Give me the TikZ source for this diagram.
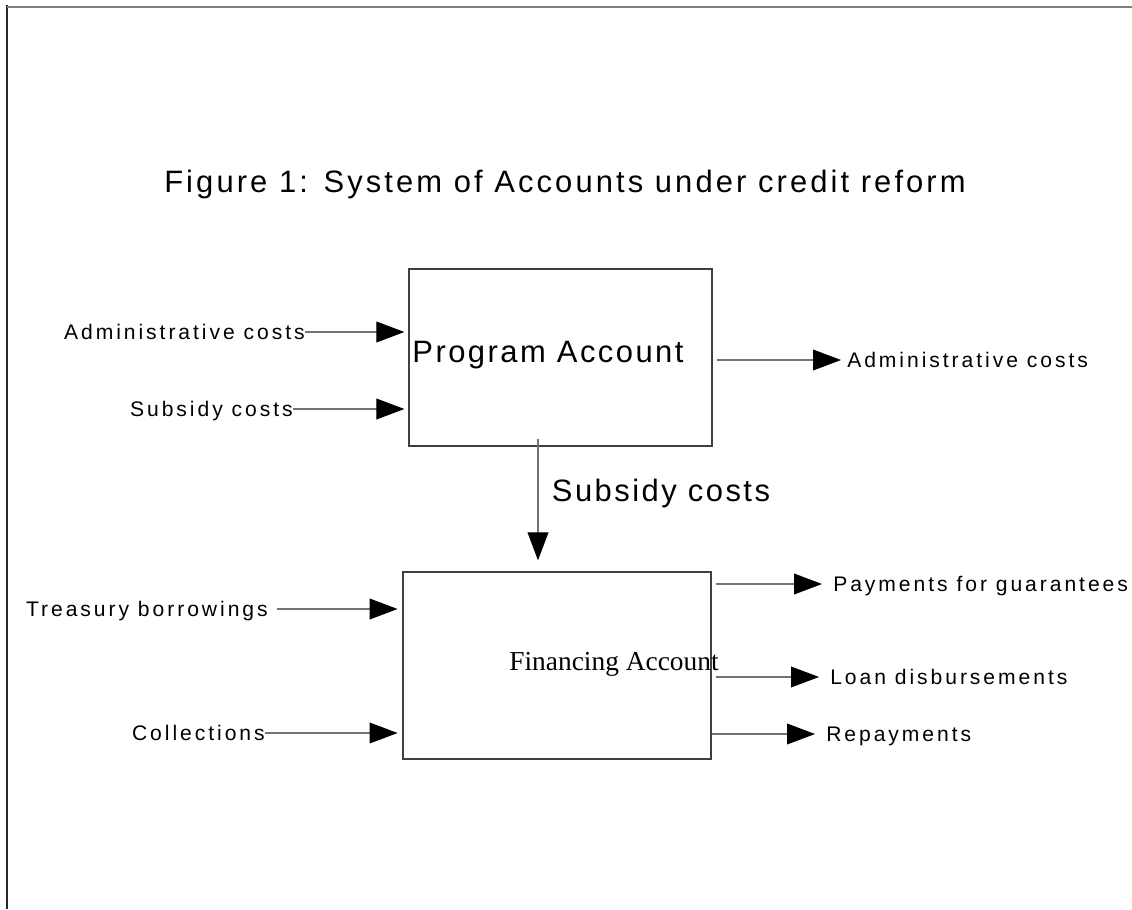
\documentclass[tikz,border=0pt]{standalone}
\usepackage{fontspec}
\setmainfont{Liberation Sans}
\newfontfamily\smallsans[LetterSpace=14]{Liberation Sans}
\newfontfamily\bigsans[LetterSpace=8]{Liberation Sans}
\newfontfamily\titlesans[LetterSpace=10]{Liberation Sans}
\newfontfamily\timesfont{Liberation Serif}
\usepackage{tikz}
\usetikzlibrary{arrows.meta}
\tikzstyle{acct}=[rectangle,draw=black!75,line width=0.9pt,inner sep=0pt]
\tikzstyle{lab}=[inner sep=0pt,text height=10.8pt,text depth=0pt,font=\smallsans\fontsize{15}{18}\selectfont]
\tikzstyle{biglab}=[inner sep=0pt,font=\bigsans\fontsize{22}{26}\selectfont]
\tikzstyle{arr}=[-{Triangle[length=0.7cm,width=0.52cm,color=black]},draw=black!55,line width=0.8pt]

\begin{document}
\begin{tikzpicture}
  \useasboundingbox (0,0) rectangle (28.3,-22.725);
  %Frame
  \draw[black!85,line width=1.4pt] (0.175,-0.125) -- (0.175,-22.725);
  \draw[gray,line width=1.4pt] (0.175,-0.175) -- (28.3,-0.175);
  %Nodes
  \node[inner sep=0pt,anchor=base,font=\titlesans\fontsize{22}{26}\selectfont] (title) at (14.125,-4.825) {Figure 1: System of Accounts under credit reform};
  \node[acct,minimum width=7.575cm,minimum height=4.425cm] (prog) at (14.0125,-8.9375) {};
  \node[acct,minimum width=7.7cm,minimum height=4.675cm]   (fin)  at (13.925,-16.6375) {};
  \node[biglab,anchor=base]  (progtxt)  at (13.7,-9.05) {Program Account};
  \node[inner sep=0pt,anchor=base,font=\timesfont\fontsize{19.5}{23}\selectfont] (fintxt) at (15.35,-16.75) {Financing Account};
  \node[biglab,anchor=base]  (subsmid)  at (16.525,-12.525) {Subsidy costs};

  \node[lab,anchor=east]     (adminin)  at (7.625,-8.3)   {Administrative costs};
  \node[lab,anchor=east]     (subsin)   at (7.325,-10.225) {Subsidy costs};
  \node[lab,anchor=east]     (treas)    at (6.7,-15.225)  {Treasury borrowings};
  \node[lab,anchor=east]     (coll)     at (6.625,-18.325) {Collections};
  \node[lab,anchor=west]     (adminout) at (21.175,-9.0)  {Administrative costs};
  \node[lab,anchor=west]     (pay)      at (20.825,-14.6) {Payments for guarantees};
  \node[lab,anchor=west]     (loan)     at (20.75,-16.925) {Loan disbursements};
  \node[lab,anchor=west]     (repay)    at (20.65,-18.35) {Repayments};
  \coordinate (drop) at (13.45,-10.975);
  %Lines
  \draw[arr,shorten >=0.1cm] (adminin.east) -- (adminin.east -| prog.west);
  \draw[arr,shorten >=0.1cm] (subsin.east) -- (subsin.east -| prog.west);
  \draw[arr,shorten <=0.22cm,shorten >=0.12cm] (treas.east) -- (treas.east -| fin.west);
  \draw[arr,shorten >=0.12cm] (coll.east) -- (coll.east -| fin.west);
  \draw[arr,shorten <=0.1cm,shorten >=0.15cm] (adminout.west -| prog.east) -- (adminout.west);
  \draw[arr,shorten <=0.1cm,shorten >=0.275cm] (pay.west -| fin.east) -- (pay.west);
  \draw[arr,shorten <=0.1cm,shorten >=0.275cm] (loan.west -| fin.east) -- (loan.west);
  \draw[arr,shorten >=0.275cm] (repay.west -| fin.east) -- (repay.west);
  \draw[arr,shorten >=0.275cm] (drop) -- (drop |- fin.north);
\end{tikzpicture}
\end{document}
